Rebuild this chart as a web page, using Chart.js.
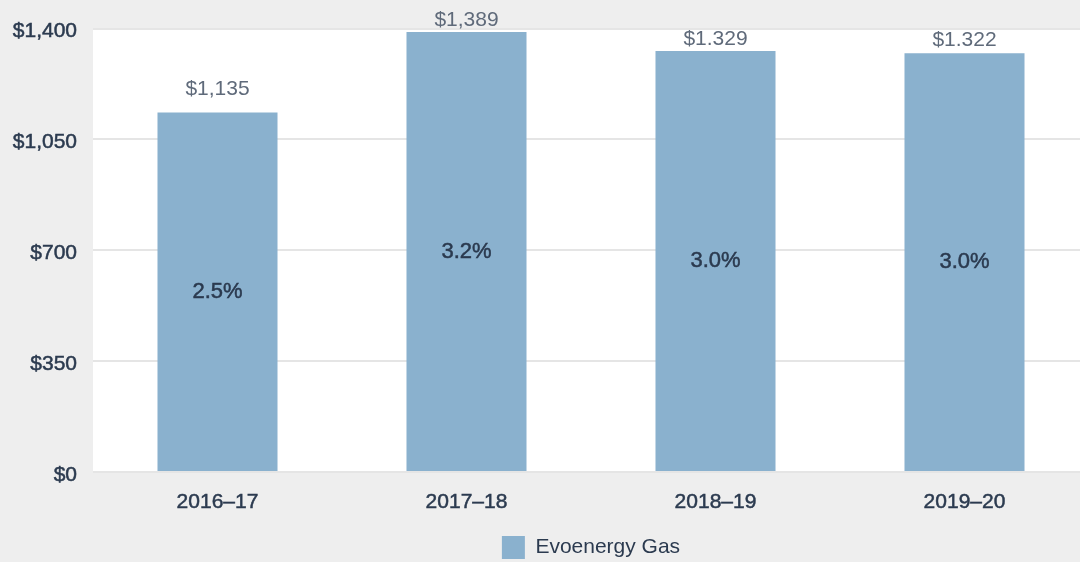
<!DOCTYPE html>
<html>
<head>
<meta charset="utf-8">
<script src="https://cdn.jsdelivr.net/npm/chart.js@4/dist/chart.umd.min.js"></script>
<style>
  html, body { margin: 0; padding: 0; background: #eeeeee; overflow: hidden; }
  #wrap { width: 1089px; height: 562px; }
</style>
</head>
<body>
<div id="wrap"><canvas id="chart"></canvas></div>
<script>
const categories = ["2016\u201317", "2017\u201318", "2018\u201319", "2019\u201320"]
const bills = [1135, 1389, 1329, 1322]
const billLabels = ["$1,135", "$1,389", "$1.329", "$1.322"]
const growthLabels = ["2.5%", "3.2%", "3.0%", "3.0%"]
const yTicks = [0, 350, 700, 1050, 1400]

const FONT = "'Liberation Sans', Arial, sans-serif"
const DARK = "#2b3a4f"

// white plot area on grey page
const plotBg = {
  id: "plotBg",
  beforeDraw(chart) {
    const { ctx, chartArea: a } = chart
    ctx.save()
    ctx.fillStyle = "#ffffff"
    ctx.fillRect(a.left, a.top, a.right - a.left, a.bottom - a.top)
    ctx.restore()
  },
}

const barLabels = {
  id: "barLabels",
  afterDatasetsDraw(chart) {
    const { ctx, chartArea } = chart
    const meta = chart.getDatasetMeta(0)
    ctx.save()
    ctx.textAlign = "center"
    ctx.textBaseline = "middle"
    meta.data.forEach((bar, i) => {
      // value above the bar, squeezed down when it would leave the plot top
      const y = Math.max(bar.y - 23, Math.min(bar.y - 12, chartArea.top + 12))
      ctx.font = "21px " + FONT
      ctx.fillStyle = "#5f6a7a"
      ctx.fillText(billLabels[i], bar.x, y)

      const my = (bar.y + bar.base) / 2
      ctx.font = "22px " + FONT
      ctx.fillStyle = DARK
      ctx.strokeStyle = DARK
      ctx.lineWidth = 0.5
      ctx.fillText(growthLabels[i], bar.x, my)
      ctx.strokeText(growthLabels[i], bar.x, my)
    })
    ctx.restore()
  },
}

new Chart(document.getElementById("chart"), {
  type: "bar",
  data: {
    labels: categories,
    datasets: [{
      label: "Evoenergy Gas",
      data: bills,
      backgroundColor: "#8ab1ce",
      borderWidth: 0,
      barPercentage: 0.482,
      categoryPercentage: 1,
    }],
  },
  options: {
    responsive: true,
    maintainAspectRatio: false,
    animation: false,
    layout: { padding: { top: 28, right: 0, left: 0, bottom: -7 } },
    plugins: {
      legend: {
        position: "bottom",
        fullSize: false,
        labels: {
          boxWidth: 23,
          boxHeight: 23,
          padding: 4,
          color: DARK,
          font: { family: FONT, size: 21 },
        },
      },
      tooltip: { enabled: false },
    },
    scales: {
      x: {
        afterFit(axis) { axis.height = 60 },
        grid: { display: false, drawTicks: false },
        border: { display: false },
        ticks: {
          color: DARK,
          font: { family: FONT, size: 21 },
          padding: 18,
          textStrokeColor: DARK,
          textStrokeWidth: 0.5,
        },
      },
      y: {
        min: 0,
        max: 1400,
        afterFit(axis) { axis.width = 93 },
        afterBuildTicks(axis) { axis.ticks = yTicks.map(v => ({ value: v })) },
        grid: { color: "#e5e5e5", lineWidth: 2, drawTicks: false },
        border: { display: false },
        ticks: {
          color: DARK,
          padding: 16,
          labelOffset: 3,
          font: { family: FONT, size: 21 },
          textStrokeColor: DARK,
          textStrokeWidth: 0.5,
          callback: v => "$" + v.toLocaleString("en-US"),
        },
      },
    },
  },
  plugins: [plotBg, barLabels],
})
</script>
</body>
</html>
